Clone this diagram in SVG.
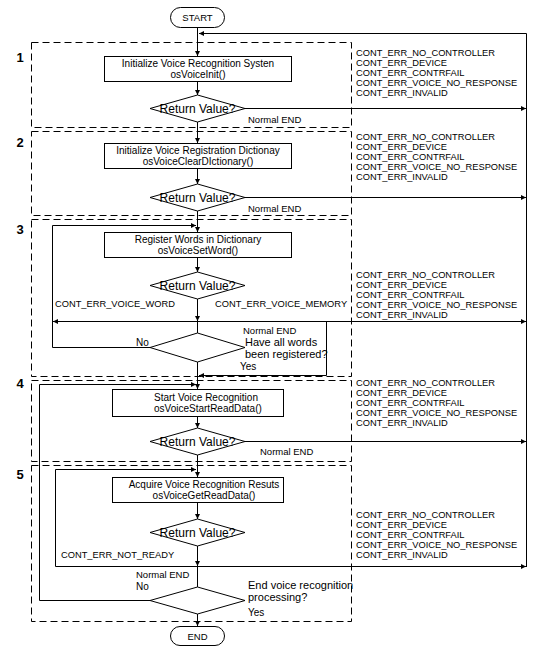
<svg xmlns="http://www.w3.org/2000/svg" width="549" height="654" viewBox="0 0 549 654">
<defs>
<marker id="ah" markerUnits="userSpaceOnUse" markerWidth="5" markerHeight="5" refX="5" refY="2.5" orient="auto"><path d="M0,0 L5,2.5 L0,5 z" fill="#000"/></marker>
</defs>
<style>
.t{font-family:"Liberation Sans",Arial,sans-serif;fill:#000}
.box{fill:#fff;stroke:#000;stroke-width:1}
.stage{fill:none;stroke:#000;stroke-width:1;stroke-dasharray:7,4}
.c{fill:none;stroke:#000;stroke-width:1}
.a{marker-end:url(#ah)}
.err{font-size:9.3px}
.pt{font-size:10px;text-anchor:middle}
.pl{font-size:10px}
.rv{font-size:12px;text-anchor:middle}
.lbl{font-size:9.5px}
.q{font-size:11px}
.num{font-size:13px;font-weight:bold;text-anchor:middle}
</style>
<rect width="549" height="654" fill="#fff"/>

<g id="stages">
<rect class="stage" x="31.5" y="42.5" width="320" height="85"/>
<rect class="stage" x="31.5" y="131.5" width="320" height="84"/>
<rect class="stage" x="31.5" y="219.5" width="320" height="157"/>
<rect class="stage" x="31.5" y="380.5" width="320" height="81"/>
<rect class="stage" x="31.5" y="465.5" width="320" height="156"/>
<text class="t num" x="20" y="62">1</text>
<text class="t num" x="20" y="147">2</text>
<text class="t num" x="20" y="234">3</text>
<text class="t num" x="20" y="388">4</text>
<text class="t num" x="20" y="479">5</text>
</g>

<g id="connectors">
<path class="c a" d="M197.5,27 V56"/>
<path class="c a" d="M197.5,81 V95"/>
<path class="c a" d="M197.5,122 V143"/>
<path class="c a" d="M197.5,168 V184"/>
<path class="c a" d="M197.5,211 V232"/>
<path class="c a" d="M197.5,257 V272"/>
<path class="c a" d="M197.5,299 V321"/>
<path class="c" d="M197.5,321 V333"/>
<path class="c a" d="M197.5,362 V389"/>
<path class="c a" d="M197.5,416 V428"/>
<path class="c a" d="M197.5,455 V477"/>
<path class="c a" d="M197.5,502 V519"/>
<path class="c a" d="M197.5,546 V566"/>
<path class="c" d="M197.5,566 V587"/>
<path class="c a" d="M197.5,614 V626"/>
<path class="c a" d="M245,108.5 H526"/>
<path class="c a" d="M245,197.5 H526"/>
<path class="c a" d="M197.5,321.5 H526"/>
<path class="c a" d="M245,441.5 H526"/>
<path class="c a" d="M55.5,566.5 H526"/>
<path class="c a" d="M526.5,567 V33.5 H199"/>
<path class="c a" d="M197.5,321.5 H53"/>
<path class="c a" d="M150,347.5 H52.5 V225.5 H196"/>
<path class="c a" d="M326.5,321.5 V375.5 H199"/>
<path class="c a" d="M150,600.5 H39.5 V384.5 H196"/>
<path class="c a" d="M55.5,566.5 V469.5 H196"/>
<text class="t lbl" x="248" y="123">Normal END</text>
<text class="t lbl" x="248" y="212">Normal END</text>
<text class="t err" x="55" y="306.5">CONT_ERR_VOICE_WORD</text>
<text class="t err" x="215" y="306.5">CONT_ERR_VOICE_MEMORY</text>
<text class="t lbl" x="243" y="333.5">Normal END</text>
<text class="t pl" x="136" y="345.5">No</text>
<text class="t pl" x="240" y="369.5">Yes</text>
<text class="t lbl" x="260" y="455">Normal END</text>
<text class="t err" x="61" y="558">CONT_ERR_NOT_READY</text>
<text class="t lbl" x="136" y="577.5">Normal END</text>
<text class="t pl" x="136" y="589.5">No</text>
<text class="t pl" x="248" y="616">Yes</text>
</g>

<g id="start">
<rect class="box" x="170.5" y="7.5" width="54" height="20" rx="10"/>
<text class="t" x="197.5" y="21" font-size="9.5" text-anchor="middle">START</text>
</g>

<g id="p1">
<rect class="box" x="104.5" y="56.5" width="187" height="25"/>
<text class="t pt" x="198" y="67">Initialize Voice Recognition Systen</text>
<text class="t pt" x="198" y="78">osVoiceInit()</text>
</g>
<g id="d1">
<polygon class="box" points="150,108.5 197.5,95 245,108.5 197.5,122"/>
<text class="t rv" x="197.5" y="112.5">Return Value?</text>
</g>
<g id="err1" class="t err">
<text x="356" y="56">CONT_ERR_NO_CONTROLLER</text>
<text x="356" y="66">CONT_ERR_DEVICE</text>
<text x="356" y="76">CONT_ERR_CONTRFAIL</text>
<text x="356" y="86">CONT_ERR_VOICE_NO_RESPONSE</text>
<text x="356" y="96">CONT_ERR_INVALID</text>
</g>

<g id="p2">
<rect class="box" x="104.5" y="143.5" width="187" height="25"/>
<text class="t pt" x="198" y="154">Initialize Voice Registration Dictionay</text>
<text class="t pt" x="198" y="165">osVoiceClearDIctionary()</text>
</g>
<g id="d2">
<polygon class="box" points="150,197.5 197.5,184 245,197.5 197.5,211"/>
<text class="t rv" x="197.5" y="201.5">Return Value?</text>
</g>
<g id="err2" class="t err">
<text x="356" y="140">CONT_ERR_NO_CONTROLLER</text>
<text x="356" y="150">CONT_ERR_DEVICE</text>
<text x="356" y="160">CONT_ERR_CONTRFAIL</text>
<text x="356" y="170">CONT_ERR_VOICE_NO_RESPONSE</text>
<text x="356" y="180">CONT_ERR_INVALID</text>
</g>

<g id="p3">
<rect class="box" x="104.5" y="232.5" width="187" height="25"/>
<text class="t pt" x="198" y="243">Register Words in Dictionary</text>
<text class="t pt" x="198" y="254">osVoiceSetWord()</text>
</g>
<g id="d3">
<polygon class="box" points="150,285.5 197.5,272 245,285.5 197.5,299"/>
<text class="t rv" x="197.5" y="289.5">Return Value?</text>
</g>
<g id="d4">
<polygon class="box" points="150,347.5 197.5,333 245,347.5 197.5,362"/>
<text class="t q" x="245" y="345.5">Have all words</text>
<text class="t q" x="245" y="357.5">been registered?</text>
</g>
<g id="err3" class="t err">
<text x="356" y="277.5">CONT_ERR_NO_CONTROLLER</text>
<text x="356" y="287.5">CONT_ERR_DEVICE</text>
<text x="356" y="297.5">CONT_ERR_CONTRFAIL</text>
<text x="356" y="307.5">CONT_ERR_VOICE_NO_RESPONSE</text>
<text x="356" y="317.5">CONT_ERR_INVALID</text>
</g>

<g id="p4">
<rect class="box" x="112.5" y="389.5" width="171" height="27"/>
<text class="t pl" x="154" y="400.5">Start Voice Recognition</text>
<text class="t pl" x="154" y="412">osVoiceStartReadData()</text>
</g>
<g id="d4b">
<polygon class="box" points="150,441.5 197.5,428 245,441.5 197.5,455"/>
<text class="t rv" x="197.5" y="445.5">Return Value?</text>
</g>
<g id="err4" class="t err">
<text x="356" y="386">CONT_ERR_NO_CONTROLLER</text>
<text x="356" y="396">CONT_ERR_DEVICE</text>
<text x="356" y="406">CONT_ERR_CONTRFAIL</text>
<text x="356" y="416">CONT_ERR_VOICE_NO_RESPONSE</text>
<text x="356" y="426">CONT_ERR_INVALID</text>
</g>

<g id="p5">
<rect class="box" x="112.5" y="477.5" width="171" height="25"/>
<text class="t pt" x="204" y="488">Acquire Voice Recognition Resuts</text>
<text class="t pt" x="204" y="498.5">osVoiceGetReadData()</text>
</g>
<g id="d5">
<polygon class="box" points="150,532.5 197.5,519 245,532.5 197.5,546"/>
<text class="t rv" x="197.5" y="536.5">Return Value?</text>
</g>
<g id="d6">
<polygon class="box" points="150,600.5 197.5,587 245,600.5 197.5,614"/>
<text class="t q" x="248" y="589">End voice recognition</text>
<text class="t q" x="248" y="601">processing?</text>
</g>
<g id="err5" class="t err">
<text x="356" y="517.5">CONT_ERR_NO_CONTROLLER</text>
<text x="356" y="527.5">CONT_ERR_DEVICE</text>
<text x="356" y="537.5">CONT_ERR_CONTRFAIL</text>
<text x="356" y="547.5">CONT_ERR_VOICE_NO_RESPONSE</text>
<text x="356" y="557.5">CONT_ERR_INVALID</text>
</g>

<g id="end">
<rect class="box" x="170.5" y="626.5" width="54" height="19" rx="9.5"/>
<text class="t" x="197.5" y="639.5" font-size="9.5" text-anchor="middle">END</text>
</g>
</svg>
